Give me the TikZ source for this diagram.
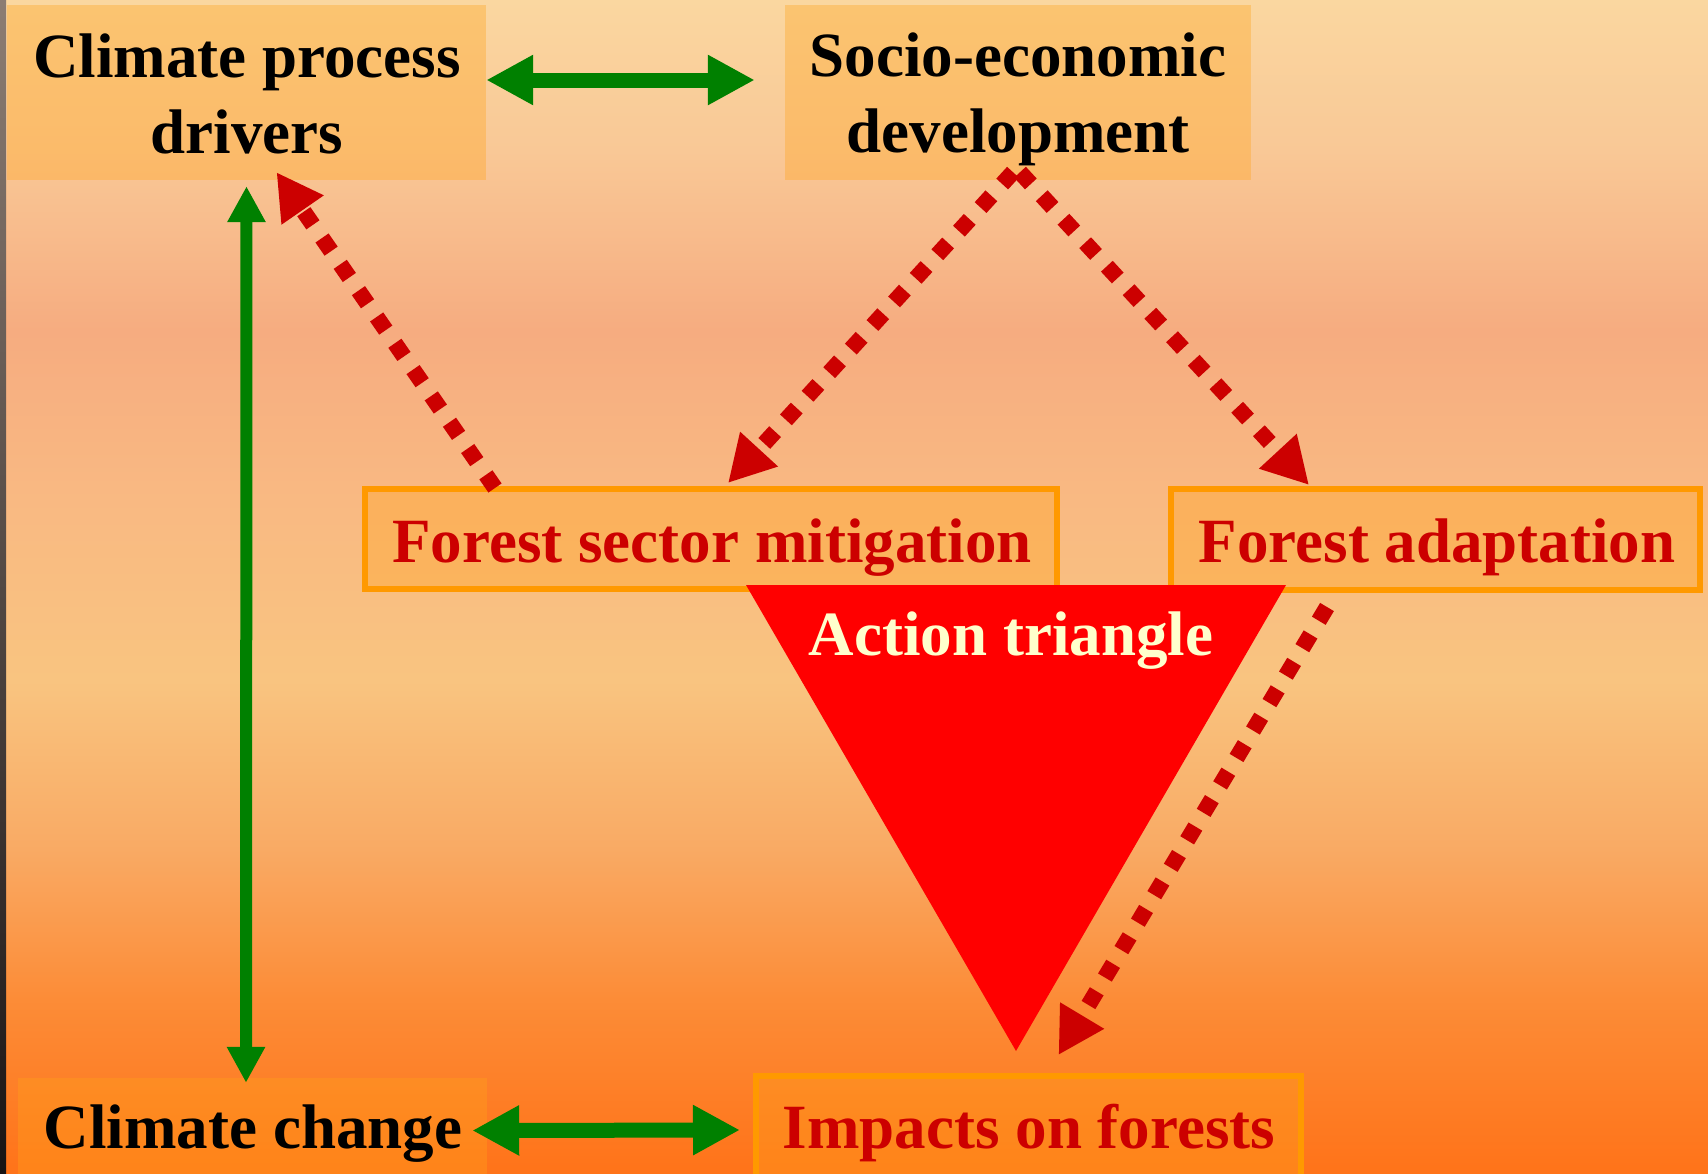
\documentclass[tikz,border=0pt]{standalone}
\usepackage{fontspec}
\setmainfont{Liberation Serif}
\usetikzlibrary{arrows.meta,calc}

\definecolor{bgA}{RGB}{250,215,160}
\definecolor{bgB}{RGB}{249,200,150}
\definecolor{bgC}{RGB}{246,172,128}
\definecolor{bgD}{RGB}{249,185,130}
\definecolor{bgE}{RGB}{249,196,128}
\definecolor{bgF}{RGB}{249,170,100}
\definecolor{bgG}{RGB}{252,140,55}
\definecolor{bgH}{RGB}{255,115,25}
\definecolor{stripA}{RGB}{140,125,115}
\definecolor{stripB}{RGB}{190,110,70}
\definecolor{stripC}{RGB}{25,20,20}
\definecolor{boxorange}{RGB}{255,163,26}
\definecolor{edgeorange}{RGB}{255,153,0}
\definecolor{leafgreen}{RGB}{0,128,0}
\definecolor{darkred}{RGB}{204,0,0}
\definecolor{trired}{RGB}{255,0,0}
\definecolor{cream}{RGB}{255,255,204}

\pgfdeclareverticalshading{sunset}{100bp}{color(0bp)=(bgH); color(25bp)=(bgH);
  color(32.4bp)=(bgG); color(38.8bp)=(bgF); color(46bp)=(bgE); color(53.7bp)=(bgD);
  color(60.9bp)=(bgC); color(68.6bp)=(bgB); color(75bp)=(bgA); color(100bp)=(bgA)}

\tikzset{
  plainbox/.style={rectangle, fill=boxorange, fill opacity=.35, inner sep=0pt},
  edgebox/.style={plainbox, draw=edgeorange, draw opacity=1, line width=6pt},
  bigtxt/.style={anchor=base, inner sep=0pt, font=\bfseries\fontsize{63}{76}\selectfont},
  blacktxt/.style={bigtxt, text=black},
  redtxt/.style={bigtxt, text=darkred},
  creamtxt/.style={bigtxt, text=cream},
  greenarrow/.style={draw=leafgreen, line width=15pt,
    arrows={Triangle[length=47pt,width=47pt]-Triangle[length=47pt,width=47pt]}},
  reddots/.style={draw=darkred, line width=16pt, dash pattern=on 16pt off 16pt,
    arrows={-Triangle[length=46pt,width=48pt]}}
}

\begin{document}
\begin{tikzpicture}[x=1pt,y=-1pt]
        \useasboundingbox (0,0) rectangle (1708,1173);
        \shade[shading=sunset] (0,0) rectangle (1708,1173);
        \shade[top color=stripA, middle color=stripB, bottom color=stripC] (0,0) rectangle (6,1173);

        \draw (246.5,92.5) node[plainbox, minimum width=479pt, minimum height=175pt] (cpd) {};
        \draw (1018,92.5) node[plainbox, minimum width=466pt, minimum height=175pt] (sed) {};
        \draw (711,539) node[edgebox, minimum width=692pt, minimum height=100pt] (fsm) {};
        \draw (1435.5,539.5) node[edgebox, minimum width=529pt, minimum height=101pt] (fad) {};
        \draw (252.5,1131.5) node[plainbox, minimum width=469pt, minimum height=107pt] (cc) {};
        \draw (1028.5,1131) node[edgebox, minimum width=545pt, minimum height=110pt] (iof) {};

        \fill[trired] (746,585) -- (1286,585) -- (1016,1051) -- cycle;

        \draw (247,77) node[blacktxt] (cpd-top) {Climate process};
        \draw (247,153) node[blacktxt] (cpd-bot) {drivers};
        \draw (1018,76) node[blacktxt] (sed-top) {Socio-economic};
        \draw (1018,152) node[blacktxt] (sed-bot) {development};
        \draw (712,562) node[redtxt] (fsm-txt) {Forest sector mitigation};
        \draw (1437,562) node[redtxt] (fad-txt) {Forest adaptation};
        \draw (1011,655) node[creamtxt] (act-txt) {Action triangle};
        \draw (253,1148) node[blacktxt] (cc-txt) {Climate change};
        \draw (1029,1148) node[redtxt] (iof-txt) {Impacts on forests};

        \draw[greenarrow] ($(cpd.east)+(0,-12.5)$) -- ($(sed.west)+(-30,-12.5)$);
        \draw[greenarrow, line width=12pt, arrows={Triangle[length=36pt,width=36pt]-Triangle[length=36pt,width=36pt]}] ($(cpd.south)+(0,6)$) -- ($(cc.north)+(-6.5,5)$);
        \draw[greenarrow] ($(cc.east)+(-15,-1)$) -- ($(iof.west)+(-13,-1)$);

        \draw[reddots] ($(fsm.north west)+(133,2)$) -- ($(cpd.south)+(30,-8)$);
        \draw[reddots] ($(sed.south)+(-5,-8)$) -- ($(fsm.north)+(17,-3)$);
        \draw[reddots] ($(sed.south)+(2,-8)$) -- ($(fad.north west)+(141,-1)$);
        \draw[reddots] ($(fad.south west)+(159,14)$) -- ($(iof.north)+(30,-18)$);
    \end{tikzpicture}
\end{document}
